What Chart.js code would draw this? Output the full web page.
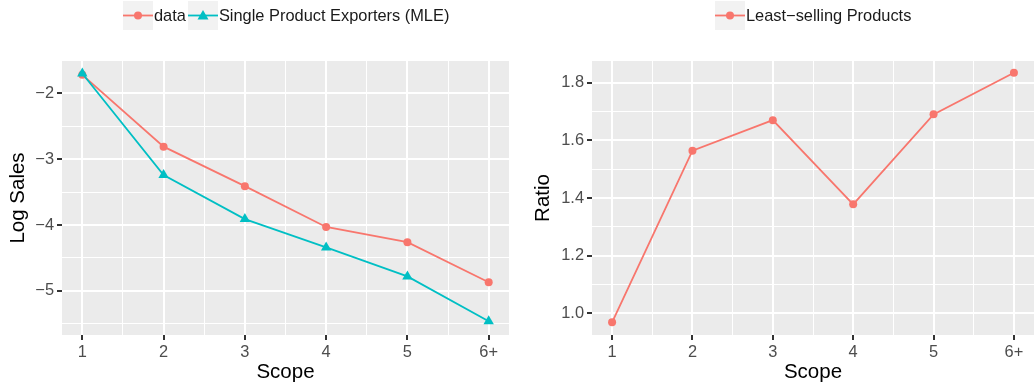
<!DOCTYPE html>
<html>
<head>
<meta charset="utf-8">
<script src="https://cdn.jsdelivr.net/npm/chart.js@4.4.0/dist/chart.umd.min.js"></script>
<style>
  body { margin: 0; background: #fff; width: 1034px; height: 389px; overflow: hidden; position: relative; font-family: "Liberation Sans", Arial, sans-serif; }
  canvas { position: absolute; top: 0; }
  .legend { position: absolute; top: 1px; display: flex; align-items: center; z-index: 2; }
  .legend svg { display: block; }
  .legend span { font-size: 16.4px; color: #1a1a1a; margin: 0 2px 0 1px; line-height: 29px; }
</style>
</head>
<body>
<div id="legLeft" class="legend" style="left:123px"></div>
<div id="legRight" class="legend" style="left:715px"></div>
<canvas id="salesChart" width="517" height="389" style="left:0"></canvas>
<canvas id="ratioChart" width="517" height="389" style="left:517px"></canvas>
<script>
// values
const scopes = [1, 2, 3, 4, 5, 6];
const scopeLabels = ['1', '2', '3', '4', '5', '6+'];
const scopeMinor = [1.5, 2.5, 3.5, 4.5, 5.5];

const logSalesData = [-1.72, -2.81, -3.41, -4.03, -4.26, -4.87];
const logSalesMLE = [-1.70, -3.24, -3.91, -4.34, -4.78, -5.46];
const salesTicks = [-5, -4, -3, -2];
const salesMinor = [-5.5, -4.5, -3.5, -2.5];

const ratioLeast = [0.969, 1.564, 1.670, 1.378, 1.690, 1.834];
const ratioTicks = [1.0, 1.2, 1.4, 1.6, 1.8];
const ratioMinor = [1.1, 1.3, 1.5, 1.7];

const RED = '#F8766D';
const TEAL = '#00BFC4';

Chart.defaults.font.family = '"Liberation Sans", Arial, sans-serif';

const panelBg = {
  id: 'panelBg',
  beforeDraw(chart) {
    const { ctx, chartArea: a } = chart;
    ctx.save();
    ctx.fillStyle = '#EBEBEB';
    ctx.fillRect(a.left, a.top, a.right - a.left, a.bottom - a.top);
    ctx.restore();
  }
};

function tickList(major, minor) {
  return major.map(v => ({ value: v }))
    .concat(minor.map(v => ({ value: v, minor: true })))
    .sort((a, b) => a.value - b.value);
}

function gridOpts() {
  return {
    color: '#FFFFFF',
    lineWidth: c => (c.tick && c.tick.minor ? 1 : 2),
    tickColor: c => (c.tick && c.tick.minor ? 'rgba(0,0,0,0)' : '#333333'),
    tickLength: 5,
    tickWidth: 2
  };
}

function xAxis() {
  return {
    type: 'linear',
    min: 0.75,
    max: 6.25,
    afterBuildTicks: s => { s.ticks = tickList(scopes, scopeMinor); },
    afterFit: s => { s.height = 54; },
    grid: gridOpts(),
    border: { display: false },
    ticks: {
      autoSkip: false, maxRotation: 0, color: '#4D4D4D', font: { size: 16.4 }, padding: 3,
      callback: (v, i, t) => (t[i].minor ? '' : scopeLabels[scopes.indexOf(v)])
    },
    title: { display: true, text: 'Scope', color: '#000', font: { size: 20.5 }, padding: { top: 0, bottom: 4 } }
  };
}

function yAxis(min, max, major, minor, width, titleText, titlePad, fmt) {
  return {
    min, max,
    afterBuildTicks: s => { s.ticks = tickList(major, minor); },
    afterFit: s => { s.width = width; },
    grid: gridOpts(),
    border: { display: false },
    ticks: {
      autoSkip: false, color: '#4D4D4D', font: { size: 16.4 }, padding: 3,
      callback: (v, i, t) => (t[i].minor ? '' : fmt(v))
    },
    title: { display: true, text: titleText, color: '#000', font: { size: 20.5 }, padding: { top: titlePad, bottom: 0 } }
  };
}

function series(label, ys, color, style, radius, order) {
  return {
    label,
    data: scopes.map((x, i) => ({ x, y: ys[i] })),
    borderColor: color,
    backgroundColor: color,
    borderWidth: 1.8,
    pointStyle: style,
    pointRadius: radius,
    pointBorderWidth: 0,
    pointHoverRadius: radius,
    tension: 0,
    clip: false,
    order
  };
}

function baseOptions(padding, y) {
  return {
    responsive: false,
    animation: false,
    devicePixelRatio: 1,
    layout: { padding, autoPadding: false },
    plugins: { legend: { display: false }, tooltip: { enabled: false } },
    scales: { x: xAxis(), y }
  };
}

new Chart(document.getElementById('salesChart'), {
  type: 'line',
  data: {
    datasets: [
      series('data', logSalesData, RED, 'circle', 4, 1),
      series('Single Product Exporters (MLE)', logSalesMLE, TEAL, 'triangle', 6, 0)
    ]
  },
  options: baseOptions({ top: 61, right: 8, left: 0, bottom: 0 },
    yAxis(-5.67, -1.51, salesTicks, salesMinor, 62, 'Log Sales', 6, v => String(v).replace('-', '\u2212'))),
  plugins: [panelBg]
});

new Chart(document.getElementById('ratioChart'), {
  type: 'line',
  data: {
    datasets: [series('Least\u2212selling Products', ratioLeast, RED, 'circle', 4, 0)]
  },
  options: baseOptions({ top: 61, right: 0, left: 0, bottom: 0 },
    yAxis(0.925, 1.875, ratioTicks, ratioMinor, 75, 'Ratio', 14.5, v => v.toFixed(1))),
  plugins: [panelBg]
});

// ggplot style legend keys
function legendKey(color, marker) {
  const m = marker === 'triangle'
    ? `<polygon points="15,9 20.5,18.5 9.5,18.5" fill="${color}"/>`
    : `<circle cx="15" cy="14.5" r="4" fill="${color}"/>`;
  return `<svg width="30" height="29"><rect width="30" height="29" fill="#F2F2F2"/>` +
    `<line x1="0" y1="14.5" x2="30" y2="14.5" stroke="${color}" stroke-width="1.8"/>${m}</svg>`;
}

function renderLegend(id, items) {
  document.getElementById(id).innerHTML = items.map(it =>
    `${legendKey(it.color, it.marker)}<span>${it.label}</span>`).join('');
}

renderLegend('legLeft', [
  { label: 'data', color: RED, marker: 'circle' },
  { label: 'Single Product Exporters (MLE)', color: TEAL, marker: 'triangle' }
]);
renderLegend('legRight', [
  { label: 'Least\u2212selling Products', color: RED, marker: 'circle' }
]);
</script>
</body>
</html>
